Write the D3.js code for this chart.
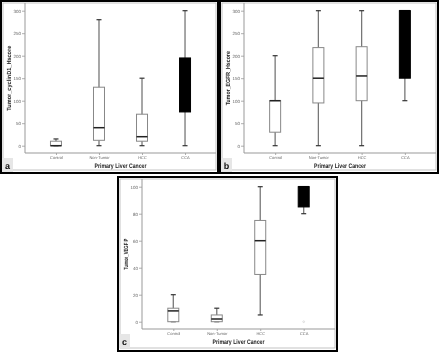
<!DOCTYPE html>
<html>
<head>
<meta charset="utf-8">
<style>
  body { margin: 0; background: #fff; }
  svg { display: block; font-family: Arial, "Liberation Sans", sans-serif; will-change: transform; }
  text { text-rendering: geometricPrecision; }
  .frame { fill: #fff; stroke: #000; stroke-width: 2px; }
  .inner { fill: none; stroke: #b5b5b5; stroke-width: 0.8px; }
  .axisline { stroke: #999; stroke-width: 1px; }
  .axis path.domain { display: none; }
  .axis .tick line { stroke: #999; stroke-width: 0.8px; }
  .axis .tick text { fill: #666; font-size: 4.5px; }
  .whisker { stroke: #777; stroke-width: 1.3px; }
  .cap { stroke: #333; stroke-width: 1.2px; }
  .box { stroke: #888; stroke-width: 1px; }
  .median { stroke: #222; stroke-width: 1.5px; }
  .ytitle, .xtitle { font-weight: bold; fill: #1a1a1a; }
  .tag { fill: #e6e6e6; }
  .tagtext { font-weight: bold; font-size: 9px; fill: #111; }
</style>
</head>
<body>
<script src="https://d3js.org/d3.v7.min.js"></script>
<script>
  // groups on the x axis
  var categories = ['Control', 'Non-Tumor', 'HCC', 'CCA'];

  // five-number summaries per group: [min, q1, median, q3, max]
  var cyclinD1 = [[0, 0, 0, 10, 15], [0, 12, 40, 130, 280], [0, 10, 20, 70, 150], [0, 75, 135, 195, 300]];
  var egfr = [[0, 30, 100, 100, 200], [0, 95, 150, 218, 300], [0, 100, 155, 220, 300], [100, 150, 300, 300, 300]];
  var vegf = [[0, 0, 8, 10, 20], [0, 0, 2, 5, 10], [5, 35, 60, 75, 100], [80, 85, 100, 100, 100]];
  var vegfOutliers = [[], [], [], [0]];

  var hscoreTicks = [0, 50, 100, 150, 200, 250, 300];
  var vegfTicks = [0, 20, 40, 60, 80, 100];

  var svg = d3.select('body')
              .append('svg')
              .attr('width', 439)
              .attr('height', 352);

  function panel(opt) {
      var g = svg.append('g')
                 .attr('transform', 'translate(' + opt.x + ',' + opt.y + ')');

      g.append('rect').attr('class', 'frame')
       .attr('x', 1).attr('y', 1)
       .attr('width', opt.w - 2).attr('height', opt.h - 2);
      g.append('rect').attr('class', 'inner')
       .attr('x', 3).attr('y', 3)
       .attr('width', opt.w - 6).attr('height', opt.h - 7);

      var left = 25, right = opt.w - 3, bottom = 153;
      var x = d3.scalePoint().domain(categories).range([left, right]).padding(0.72);
      var y = d3.scaleLinear().domain(opt.domain).range([145.7, 10.7]);

      // axis lines
      g.append('line').attr('class', 'axisline')
       .attr('x1', left).attr('x2', left).attr('y1', 3).attr('y2', bottom);
      g.append('line').attr('class', 'axisline')
       .attr('x1', left).attr('x2', right).attr('y1', bottom).attr('y2', bottom);

      g.append('g').attr('class', 'axis')
       .attr('transform', 'translate(' + left + ',0)')
       .call(d3.axisLeft(y).tickValues(opt.ticks).tickSize(3).tickPadding(1).tickSizeOuter(0));

      g.append('g').attr('class', 'axis')
       .attr('transform', 'translate(0,' + bottom + ')')
       .call(d3.axisBottom(x).tickSize(2).tickPadding(1).tickSizeOuter(0))
       .selectAll('.tick text').style('font-size', '4px');

      var boxes = g.selectAll('g.bp')
                   .data(opt.data)
                   .enter()
                   .append('g')
                   .attr('class', 'bp')
                   .attr('transform', (d, i) => 'translate(' + x(categories[i]) + ',0)');

      boxes.append('line').attr('class', 'whisker')
           .attr('x1', 0).attr('x2', 0)
           .attr('y1', d => y(d[0])).attr('y2', d => y(d[4]));
      boxes.append('line').attr('class', 'cap')
           .attr('x1', -2.5).attr('x2', 2.5)
           .attr('y1', d => y(d[0])).attr('y2', d => y(d[0]));
      boxes.append('line').attr('class', 'cap')
           .attr('x1', -2.5).attr('x2', 2.5)
           .attr('y1', d => y(d[4])).attr('y2', d => y(d[4]));
      boxes.append('rect').attr('class', 'box')
           .attr('x', -5.5).attr('width', 11)
           .attr('y', d => y(d[3]))
           .attr('height', d => y(d[1]) - y(d[3]))
           .style('fill', (d, i) => categories[i] === 'CCA' ? '#000' : '#fff')
           .style('stroke', (d, i) => categories[i] === 'CCA' ? '#000' : null);
      boxes.append('line').attr('class', 'median')
           .attr('x1', -5.5).attr('x2', 5.5)
           .attr('y1', d => y(d[2])).attr('y2', d => y(d[2]))
           .style('stroke', (d, i) => categories[i] === 'CCA' ? '#000' : null);

      if (opt.outliers) {
          opt.outliers.forEach(function(list, i) {
              g.selectAll(null).data(list).enter()
               .append('circle')
               .attr('cx', x(categories[i]))
               .attr('cy', d => y(d))
               .attr('r', 0.9)
               .style('fill', 'none')
               .style('stroke', '#ccc')
               .style('stroke-width', 0.6);
          });
      }

      // titles
      g.append('text').attr('class', 'ytitle')
       .attr('transform', 'translate(11,' + ((y.range()[0] + y.range()[1]) / 2) + ') rotate(-90)')
       .attr('text-anchor', 'middle')
       .style('font-size', '6px')
       .attr('textLength', opt.yLen)
       .attr('lengthAdjust', 'spacingAndGlyphs')
       .text(opt.yTitle);
      g.append('text').attr('class', 'xtitle')
       .attr('x', (left + right) / 2).attr('y', 168)
       .attr('text-anchor', 'middle')
       .style('font-size', '6.5px')
       .attr('textLength', 52)
       .attr('lengthAdjust', 'spacingAndGlyphs')
       .text('Primary Liver Cancer');

      g.append('rect').attr('class', 'tag')
       .attr('x', 2).attr('y', 158).attr('width', 11).attr('height', 14);
      g.append('text').attr('class', 'tagtext')
       .attr('x', 7.5).attr('y', 168.5)
       .attr('text-anchor', 'middle')
       .text(opt.tag);
  }

  panel({x: 0, y: 0, w: 219, h: 174, data: cyclinD1, domain: [0, 300], ticks: hscoreTicks,
         yTitle: 'Tumor_cyclinD1_Hscore', yLen: 65, tag: 'a'});
  panel({x: 219, y: 0, w: 220, h: 174, data: egfr, domain: [0, 300], ticks: hscoreTicks,
         yTitle: 'Tumor_EGFR_Hscore', yLen: 54, tag: 'b'});
  panel({x: 117, y: 176, w: 221, h: 176, data: vegf, domain: [0, 100], ticks: vegfTicks,
         yTitle: 'Tumor_VEGF P', yLen: 31, tag: 'c', outliers: vegfOutliers});
</script>
</body>
</html>
